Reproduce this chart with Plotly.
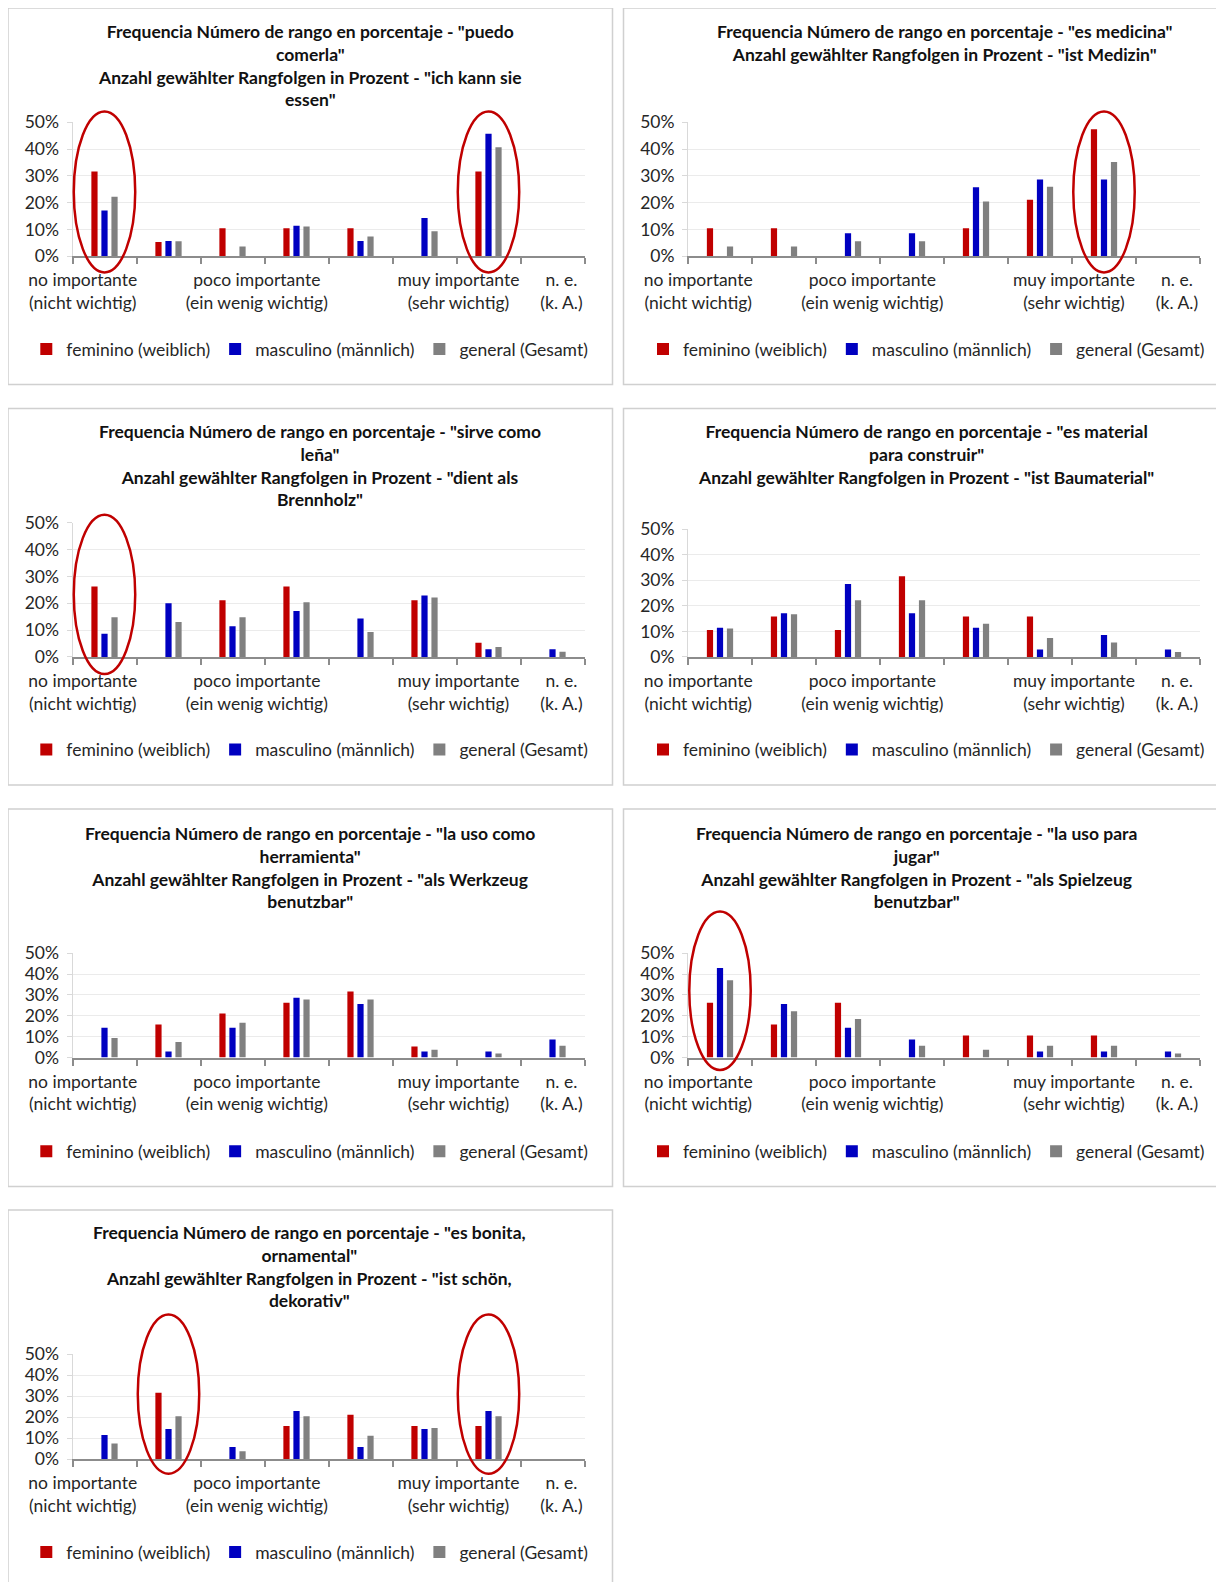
import plotly.graph_objects as go

# page body adds an 8px margin; figure sized so it fits the 1224x1582 window
OFF = 8
W, H = 1224 - OFF, 1582 - OFF

# ---------------- data (percent) ----------------
series_names = ["feminino (weiblich)", "masculino (männlich)", "general (Gesamt)"]
series_colors = ["#C00000", "#0000C0", "#808080"]
groups = [0, 1, 2, 3, 4, 5, 6, 7]  # rank 1..7 and n. e.

tick_positions = [-0.34, 2.38, 5.53, 7.14]
tick_labels = ["no importante<br>(nicht wichtig)", "poco importante<br>(ein wenig wichtig)",
               "muy importante<br>(sehr wichtig)", "n. e.<br>(k. A.)"]

titles = [
    'Frequencia Número de rango en porcentaje - "puedo<br>comerla"<br>Anzahl gewählter Rangfolgen in Prozent - "ich kann sie<br>essen"',
    'Frequencia Número de rango en porcentaje - "es medicina"<br>Anzahl gewählter Rangfolgen in Prozent - "ist Medizin"',
    'Frequencia Número de rango en porcentaje - "sirve como<br>leña"<br>Anzahl gewählter Rangfolgen in Prozent - "dient als<br>Brennholz"',
    'Frequencia Número de rango en porcentaje - "es material<br>para construir"<br>Anzahl gewählter Rangfolgen in Prozent - "ist Baumaterial"',
    'Frequencia Número de rango en porcentaje - "la uso como<br>herramienta"<br>Anzahl gewählter Rangfolgen in Prozent - "als Werkzeug<br>benutzbar"',
    'Frequencia Número de rango en porcentaje - "la uso para<br>jugar"<br>Anzahl gewählter Rangfolgen in Prozent - "als Spielzeug<br>benutzbar"',
    'Frequencia Número de rango en porcentaje - "es bonita,<br>ornamental"<br>Anzahl gewählter Rangfolgen in Prozent - "ist schön,<br>dekorativ"',
]

comer_fem = [31.6, 5.3, 10.5, 10.5, 10.5, 0, 31.6, 0]
comer_mas = [17.1, 5.7, 0, 11.4, 5.7, 14.3, 45.7, 0]
comer_gen = [22.2, 5.6, 3.7, 11.1, 7.4, 9.3, 40.7, 0]

medicina_fem = [10.5, 10.5, 0, 0, 10.5, 21.1, 47.4, 0]
medicina_mas = [0, 0, 8.6, 8.6, 25.7, 28.6, 28.6, 0]
medicina_gen = [3.7, 3.7, 5.6, 5.6, 20.4, 25.9, 35.2, 0]

lena_fem = [26.3, 0, 21.1, 26.3, 0, 21.1, 5.3, 0]
lena_mas = [8.6, 20.0, 11.4, 17.1, 14.3, 22.9, 2.9, 2.9]
lena_gen = [14.8, 13.0, 14.8, 20.4, 9.3, 22.2, 3.7, 1.9]

construir_fem = [10.5, 15.8, 10.5, 31.6, 15.8, 15.8, 0, 0]
construir_mas = [11.4, 17.1, 28.6, 17.1, 11.4, 2.9, 8.6, 2.9]
construir_gen = [11.1, 16.7, 22.2, 22.2, 13.0, 7.4, 5.6, 1.9]

herramienta_fem = [0, 15.8, 21.1, 26.3, 31.6, 5.3, 0, 0]
herramienta_mas = [14.3, 2.9, 14.3, 28.6, 25.7, 2.9, 2.9, 8.6]
herramienta_gen = [9.3, 7.4, 16.7, 27.8, 27.8, 3.7, 1.9, 5.6]

jugar_fem = [26.3, 15.8, 26.3, 0, 10.5, 10.5, 10.5, 0]
jugar_mas = [42.9, 25.7, 14.3, 8.6, 0, 2.9, 2.9, 2.9]
jugar_gen = [37.0, 22.2, 18.5, 5.6, 3.7, 5.6, 5.6, 1.9]

bonita_fem = [0, 31.6, 0, 15.8, 21.1, 15.8, 15.8, 0]
bonita_mas = [11.4, 14.3, 5.7, 22.9, 5.7, 14.3, 22.9, 0]
bonita_gen = [7.4, 20.4, 3.7, 20.4, 11.1, 14.8, 20.4, 0]

panel_data = [
    (comer_fem, comer_mas, comer_gen),
    (medicina_fem, medicina_mas, medicina_gen),
    (lena_fem, lena_mas, lena_gen),
    (construir_fem, construir_mas, construir_gen),
    (herramienta_fem, herramienta_mas, herramienta_gen),
    (jugar_fem, jugar_mas, jugar_gen),
    (bonita_fem, bonita_mas, bonita_gen),
]

# highlighted groups (panel index, group index, top %, bottom %)
highlights = [(0, 0, 54, -6), (0, 6, 54, -6), (1, 6, 54, -6), (2, 0, 53, -6.4),
              (5, 0, 70, -6), (6, 1, 69, -7), (6, 6, 69, -7)]

# ---------------- layout geometry (window pixels) ----------------
panel_boxes = [
    (8, 8, 612.5, 384.5), (623.5, 8, 1240, 384.5),
    (8, 408.5, 612.5, 785), (623.5, 408.5, 1240, 785),
    (8, 809, 612.5, 1186.5), (623.5, 809, 1240, 1186.5),
    (8, 1210, 612.5, 1600),
]
LX0, LX1 = 72.5, 584.5
RX0, RX1 = 688.0, 1200.0
plot_boxes = [
    (LX0, 122.2, LX1, 256.3), (RX0, 122.2, RX1, 256.3),
    (LX0, 522.9, LX1, 656.9), (RX0, 529.3, RX1, 656.9),
    (LX0, 953.2, LX1, 1057.5), (RX0, 953.2, RX1, 1057.5),
    (LX0, 1354.2, LX1, 1459.0),
]
title_cx = [309.8, 944.5, 319.9, 926.3, 309.8, 916.2, 309.8]
title_top = [18.5, 18.5, 419.0, 419.0, 820.5, 820.5, 1220.0]
legend_cx = [309.8, 926.5, 309.8, 926.5, 309.8, 926.5, 309.8]
legend_cy = [349.1, 349.1, 749.7, 749.7, 1151.3, 1151.3, 1552.0]

FONT = "Lato, 'Liberation Sans', sans-serif"
FS = 17.5
TXT = "#262626"

def px_x(v):
    return (v - OFF) / W

def px_y(v):
    return 1 - (v - OFF) / H

fig = go.Figure()
layout = dict(
    width=W, height=H, margin=dict(l=0, r=0, t=0, b=0, autoexpand=False),
    paper_bgcolor="white", plot_bgcolor="white",
    barmode="group", bargap=0.53, bargroupgap=0.38,
    font=dict(family=FONT, size=FS, color=TXT),
)
shapes = []
annotations = []

for p, (fem, mas, gen) in enumerate(panel_data):
    sfx = "" if p == 0 else str(p + 1)
    xa, ya = "x" + sfx, "y" + sfx
    leg = "legend" + sfx
    x0, top, x1, bot = plot_boxes[p]
    for name, color, vals in zip(series_names, series_colors, (fem, mas, gen)):
        fig.add_trace(go.Bar(
            x=groups, y=[v / 100 for v in vals], name=name,
            marker=dict(color=color, line=dict(width=0)),
            xaxis=xa, yaxis=ya, legend=leg, showlegend=True,
        ))
    layout["xaxis" + sfx] = dict(
        domain=[px_x(x0), px_x(x1)], anchor=ya, range=[-0.5, 7.5],
        tickvals=tick_positions, ticktext=tick_labels, ticks="",
        tickfont=dict(family=FONT, size=FS, color=TXT),
        showline=True, linecolor="#8C8C8C", linewidth=2,
        showgrid=False, zeroline=False, fixedrange=True,
        ticklabelstandoff=7,
        minor=dict(tick0=-0.5, dtick=1, ticks="outside", ticklen=6,
                   tickcolor="#8C8C8C", tickwidth=1.5, showgrid=False),
    )
    layout["yaxis" + sfx] = dict(
        domain=[px_y(bot), px_y(top)], anchor=xa, range=[0, 0.5],
        tickvals=[0, 0.1, 0.2, 0.3, 0.4, 0.5], tickformat=".0%",
        tickfont=dict(family=FONT, size=FS, color=TXT),
        showgrid=True, gridcolor="#EBEBEB", gridwidth=1,
        showline=True, linecolor="#D9D9D9", linewidth=1,
        ticks="outside", ticklen=5, tickcolor="#D9D9D9",
        zeroline=False, fixedrange=True, ticklabelstandoff=4,
    )
    layout[leg] = dict(
        orientation="h", x=px_x(legend_cx[p]), y=px_y(legend_cy[p]),
        xanchor="center", yanchor="middle", xref="container", yref="container",
        font=dict(family=FONT, size=FS, color=TXT), bgcolor="rgba(0,0,0,0)",
        itemwidth=30, tracegroupgap=0, itemclick=False, itemdoubleclick=False,
    )
    bx0, by0, bx1, by1 = panel_boxes[p]
    shapes.append(dict(type="rect", xref="paper", yref="paper",
                       x0=px_x(bx0), x1=px_x(bx1), y0=px_y(by1), y1=px_y(by0),
                       line=dict(color="#D0D0D0", width=1.5), layer="below"))
    annotations.append(dict(
        text="<b>" + titles[p] + "</b>", xref="paper", yref="paper",
        x=px_x(title_cx[p]), y=px_y(title_top[p]), xanchor="center", yanchor="top",
        showarrow=False, align="center",
        font=dict(family=FONT, size=FS, color="#111111"),
    ))

for (p, g, ytop, ybot) in highlights:
    sfx = "" if p == 0 else str(p + 1)
    shapes.append(dict(
        type="circle", xref="x" + sfx + " domain", yref="y" + sfx + " domain",
        x0=(g + 0.5 - 0.48) / 8, x1=(g + 0.5 + 0.48) / 8,
        y0=ybot / 50, y1=ytop / 50,
        line=dict(color="#C00000", width=2.5), layer="above",
    ))

layout["shapes"] = shapes
layout["annotations"] = annotations
fig.update_layout(**layout)
fig.write_html("out.html")
